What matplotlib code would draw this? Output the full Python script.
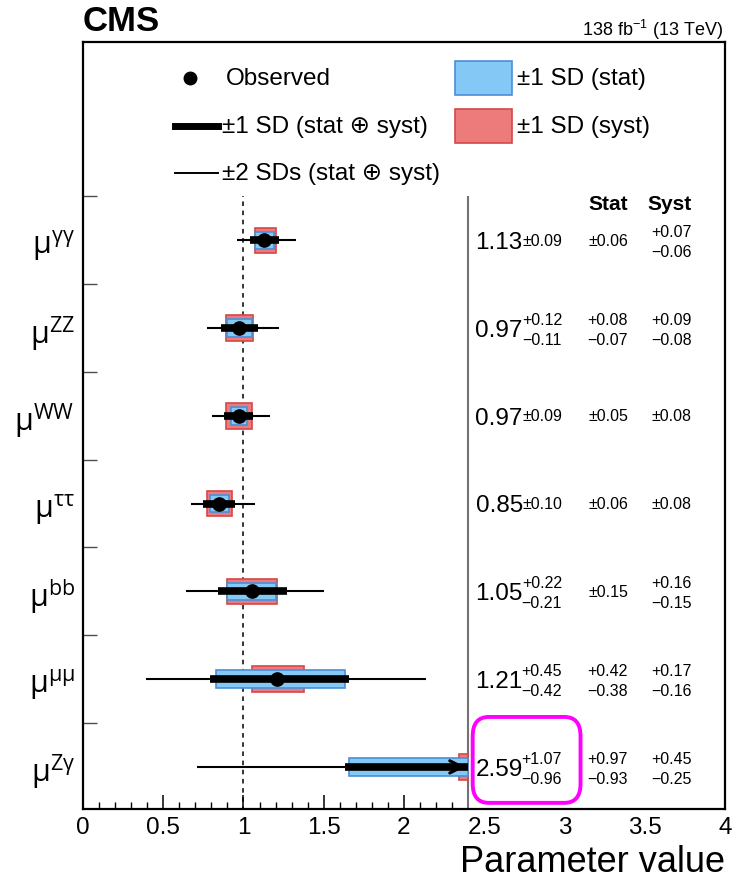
import numpy as np
import matplotlib
matplotlib.use('Agg')
import matplotlib.pyplot as plt
from matplotlib.patches import Rectangle, FancyBboxPatch

plt.rcParams['font.family'] = ['Liberation Sans', 'DejaVu Sans']
plt.rcParams['mathtext.default'] = 'regular'

# data, rows top to bottom
labels = [r'$\mu^{\gamma\gamma}$', r'$\mu^{ZZ}$', r'$\mu^{WW}$', r'$\mu^{\tau\tau}$',
          r'$\mu^{bb}$', r'$\mu^{\mu\mu}$', r'$\mu^{Z\gamma}$']
obs = np.array([1.13, 0.97, 0.97, 0.85, 1.05, 1.21, 2.59])
tot_hi = np.array([0.09, 0.12, 0.09, 0.10, 0.22, 0.45, 1.07])
tot_lo = np.array([0.09, 0.11, 0.09, 0.10, 0.21, 0.42, 0.96])
stat_hi = np.array([0.06, 0.08, 0.05, 0.06, 0.15, 0.42, 0.97])
stat_lo = np.array([0.06, 0.07, 0.05, 0.06, 0.15, 0.38, 0.93])
syst_hi = np.array([0.07, 0.09, 0.08, 0.08, 0.16, 0.17, 0.45])
syst_lo = np.array([0.06, 0.08, 0.08, 0.08, 0.15, 0.16, 0.25])
# +-2 SD interval
two_lo = np.array([0.96, 0.775, 0.805, 0.67, 0.64, 0.39, 0.71])
two_hi = np.array([1.33, 1.22, 1.165, 1.07, 1.50, 2.14, 4.70])

xclip = 2.4
ypos = np.arange(len(obs))[::-1]

blue_fc, blue_ec = '#84c8f6', '#4a8fd8'
red_fc, red_ec = '#ee7b7b', '#d44848'

fig = plt.figure(figsize=(7.37, 8.79), dpi=100)
ax = fig.add_axes([0.1126, 0.0785, 0.8711, 0.8726])
ax.set_xlim(0, 4)
ax.set_ylim(-0.48, 8.26)

def clip(a):
    return np.minimum(a, xclip)

# syst boxes, then stat boxes
lo = clip(obs - syst_lo); hi = clip(obs + syst_hi)
ax.barh(ypos, hi - lo, left=lo, height=0.29, color=red_fc, edgecolor=red_ec, lw=1.2, zorder=2)
lo = clip(obs - stat_lo); hi = clip(obs + stat_hi)
ax.barh(ypos, hi - lo, left=lo, height=0.20, color=blue_fc, edgecolor=blue_ec, lw=1.2, zorder=3)

ax.hlines(ypos, clip(two_lo), clip(two_hi), colors='k', lw=1.5, zorder=4)
ax.hlines(ypos, clip(obs - tot_lo), clip(obs + tot_hi), colors='k', lw=5.5, zorder=5)
inside = obs < xclip
ax.plot(obs[inside], ypos[inside], 'o', color='k', ms=9.5, zorder=6)
for o, h, y in zip(obs, tot_hi, ypos):
    if o + h > xclip:
        ax.annotate('', xy=(xclip, y), xytext=(xclip - 0.12, y),
                    arrowprops=dict(arrowstyle='->', lw=2.2, color='k', mutation_scale=22),
                    zorder=7)

ax.vlines(1, -0.5, 6.5, colors='k', linestyles=(0, (3, 3)), lw=1.1, zorder=1)
ax.vlines(xclip, -0.5, 6.5, colors='0.45', lw=1.5, zorder=1)

# value columns
def fmt(v):
    return ('%.2f' % v)

def put_err(xr, y, hi, lo, fs):
    if abs(hi - lo) < 1e-9:
        ax.text(xr, y, '\u00b1' + fmt(hi), ha='right', va='center', fontsize=fs)
    else:
        ax.text(xr, y + 0.10, '+' + fmt(hi), ha='right', va='center', fontsize=fs)
        ax.text(xr, y - 0.13, '\u2212' + fmt(lo), ha='right', va='center', fontsize=fs)

for i, y in enumerate(ypos):
    ax.text(2.74, y - 0.02, fmt(obs[i]), ha='right', va='center', fontsize=17.5)
    put_err(2.985, y, tot_hi[i], tot_lo[i], 11.5)
    put_err(3.395, y, stat_hi[i], stat_lo[i], 11.5)
    put_err(3.794, y, syst_hi[i], syst_lo[i], 11.5)
ax.text(3.395, 6.42, 'Stat', ha='right', va='center', fontsize=15, fontweight='bold')
ax.text(3.794, 6.42, 'Syst', ha='right', va='center', fontsize=15, fontweight='bold')

# highlight box around last value
ax.add_patch(FancyBboxPatch((0.607, 0.008), 0.168, 0.112, boxstyle='round,pad=0,rounding_size=0.025',
                            transform=ax.transAxes, fill=False, ec='#ff00ff', lw=2.8,
                            zorder=8, clip_on=False))

# legend
ta = ax.transAxes
ax.plot([0.167], [0.953], 'o', color='k', ms=9, transform=ta)
ax.plot([0.143, 0.210], [0.890, 0.890], color='k', lw=5, transform=ta)
ax.plot([0.143, 0.210], [0.829, 0.829], color='k', lw=1.4, transform=ta)
ax.add_patch(Rectangle((0.579, 0.931), 0.089, 0.044, transform=ta, fc=blue_fc, ec=blue_ec, lw=1.2))
ax.add_patch(Rectangle((0.579, 0.868), 0.089, 0.044, transform=ta, fc=red_fc, ec=red_ec, lw=1.2))
lfs = 17.5
ax.text(0.223, 0.953, 'Observed', transform=ta, va='center', fontsize=lfs)
ax.text(0.2165, 0.890, '\u00b11 SD (stat \u2295 syst)', transform=ta, va='center', fontsize=lfs)
ax.text(0.2165, 0.829, '\u00b12 SDs (stat \u2295 syst)', transform=ta, va='center', fontsize=lfs)
ax.text(0.676, 0.953, '\u00b11 SD (stat)', transform=ta, va='center', fontsize=lfs)
ax.text(0.676, 0.890, '\u00b11 SD (syst)', transform=ta, va='center', fontsize=lfs)

# axes styling
for s in ax.spines.values():
    s.set_linewidth(1.6)
ax.set_xticks(np.arange(0, 4.01, 0.5))
ax.set_xticklabels(['0', '0.5', '1', '1.5', '2', '2.5', '3', '3.5', '4'], fontsize=17.5)
minor = [v for v in np.arange(0.1, 2.35, 0.1) if abs(v * 2 - round(v * 2)) > 1e-6]
ax.set_xticks(minor, minor=True)
ax.tick_params(axis='x', which='major', direction='in', length=10, width=1.1, pad=5, top=False)
ax.tick_params(axis='x', which='minor', direction='in', length=5, width=1.0, top=False)
for t, v in zip(ax.xaxis.get_major_ticks(), ax.get_xticks()):
    if v > xclip:
        t.tick1line.set_visible(False)
ax.set_xlabel('Parameter value', fontsize=26, ha='right', va='top')
ax.xaxis.set_label_coords(1.0, -0.046)

ax.set_yticks(ypos)
ax.set_yticklabels(labels, fontsize=22, fontfamily='Open Sans')
ax.set_yticks(np.arange(0.5, 6.6, 1.0), minor=True)
ax.tick_params(axis='y', which='major', length=0, pad=6)
ax.tick_params(axis='y', which='minor', direction='in', length=10, width=1.0, color='0.3')

fig.text(0.1126, 0.975, 'CMS', fontsize=25, fontweight='bold', va='center', ha='left')
fig.text(0.981, 0.966, '138 fb$^{-1}$ (13 TeV)', fontsize=13, va='center', ha='right')

plt.savefig('out.png', dpi=100)
plt.close()
